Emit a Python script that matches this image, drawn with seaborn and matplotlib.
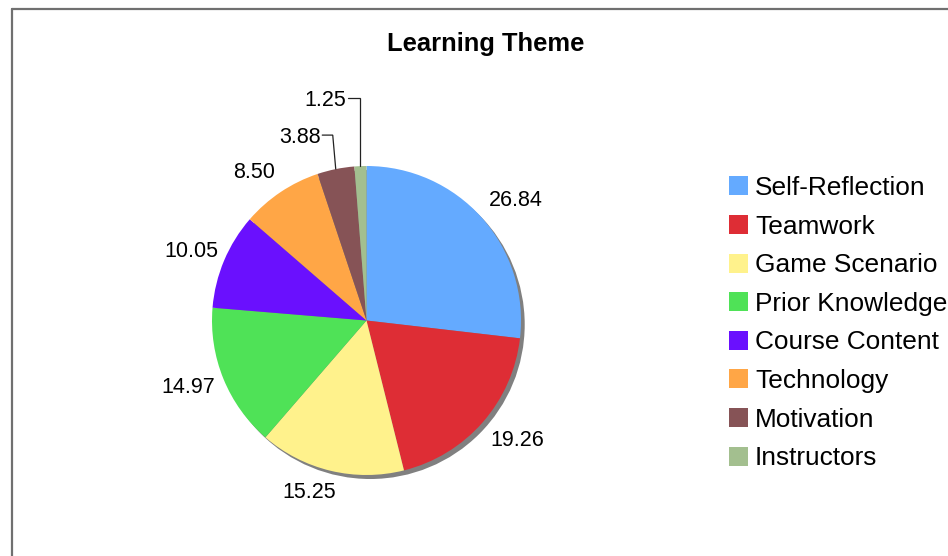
import numpy as np
import matplotlib
matplotlib.use("Agg")
import matplotlib.pyplot as plt
from matplotlib.patches import Circle, Patch
from matplotlib.lines import Line2D
import seaborn as sns

# Share of comments per learning theme (percent)
categories = ["Self-Reflection", "Teamwork", "Game Scenario", "Prior Knowledge",
              "Course Content", "Technology", "Motivation", "Instructors"]
shares = [26.84, 19.26, 15.25, 14.97, 10.05, 8.50, 3.88, 1.25]
slice_colors = ["#64aaff", "#de2d35", "#fff28c", "#4fe257",
                "#6a10fe", "#ffa646", "#865356", "#a3bf8f"]
title = "Learning Theme"

sns.set_theme(style="white")
plt.rcParams["font.family"] = ["Liberation Sans", "DejaVu Sans"]

W, H = 948, 556
fig = plt.figure(figsize=(W / 100, H / 100), dpi=100)
fig.patch.set_facecolor("white")

# pie geometry in pixels
cx, cy, R = 366.5, 320.5, 154.5
half = 1.6
side = 2 * half * R
ax = fig.add_axes([(cx - side / 2) / W, (H - cy - side / 2) / H, side / W, side / H])

wedges, _ = ax.pie(shares, colors=slice_colors, startangle=90, counterclock=False,
                   radius=1.0, wedgeprops=dict(linewidth=0, edgecolor="none"))
# drop shadow behind the pie
ax.add_patch(Circle((0.024, -0.026), 1.0, facecolor="#808080",
                    edgecolor="none", zorder=0.5))
ax.set_xlim(-half, half)
ax.set_ylim(-half, half)
ax.set_aspect("equal")
ax.axis("off")

label_fs = 15.5
digit_h = 0.716 * label_fs * 100 / 72  # px

# value labels: placed along each slice's mid angle, with small pixel nudges
label_r = 1.23
nudges = [(7, 4.5), (8, -8), (-13, -15), (-2, -7), (0, 3), (-7, 8)]
for w, v, (ndx, ndy) in zip(wedges, shares, nudges):
    mid = np.deg2rad((w.theta1 + w.theta2) / 2)
    x = label_r * np.cos(mid) + ndx / R
    y = label_r * np.sin(mid) - ndy / R - digit_h / 2 / R
    ax.text(x, y, f"{v:.2f}", ha="center", va="baseline", fontsize=label_fs,
            color="black")

# small slices get elbow leader lines up to labels
leader_levels = [(6, 1.20, 3.0, 10.5), (7, 1.44, 0.0, 12.5)]
for idx, level, slant_px, run_px in leader_levels:
    w = wedges[idx]
    mid = np.deg2rad((w.theta1 + w.theta2) / 2)
    ex, ey = np.cos(mid), np.sin(mid)
    kx = ex - slant_px / R
    tx = kx - run_px / R
    ax.plot([ex, kx, tx], [ey, level, level], color="#222222", lw=0.9,
            solid_joinstyle="miter", clip_on=False)
    ax.text(tx - 1.5 / R, level - digit_h / 2 / R, f"{shares[idx]:.2f}",
            ha="right", va="baseline", fontsize=label_fs, color="black")

# title
fig.text(485.5 / W, 1 - 50.5 / H, title, ha="center", va="baseline",
         fontsize=18.4, fontweight="bold", color="black")

# legend
legend_fs = 18.9
handles = [Patch(facecolor=c, edgecolor="none") for c in slice_colors]
fig.legend(handles, categories, loc="upper left",
           bbox_to_anchor=(729 / W, 1 - 176 / H), frameon=False,
           fontsize=legend_fs, handlelength=0.73, handleheight=0.73,
           handletextpad=0.26, labelspacing=0.557, borderpad=0,
           borderaxespad=0, labelcolor="black")

# outer frame (left and top edges)
frame_c = "#707070"
fig.add_artist(Line2D([12 / W, 12 / W], [0, 1 - 9 / H], transform=fig.transFigure,
                      color=frame_c, lw=1.6))
fig.add_artist(Line2D([12 / W, 1], [1 - 9 / H, 1 - 9 / H], transform=fig.transFigure,
                      color=frame_c, lw=1.6))

fig.savefig("out.png", dpi=100)
